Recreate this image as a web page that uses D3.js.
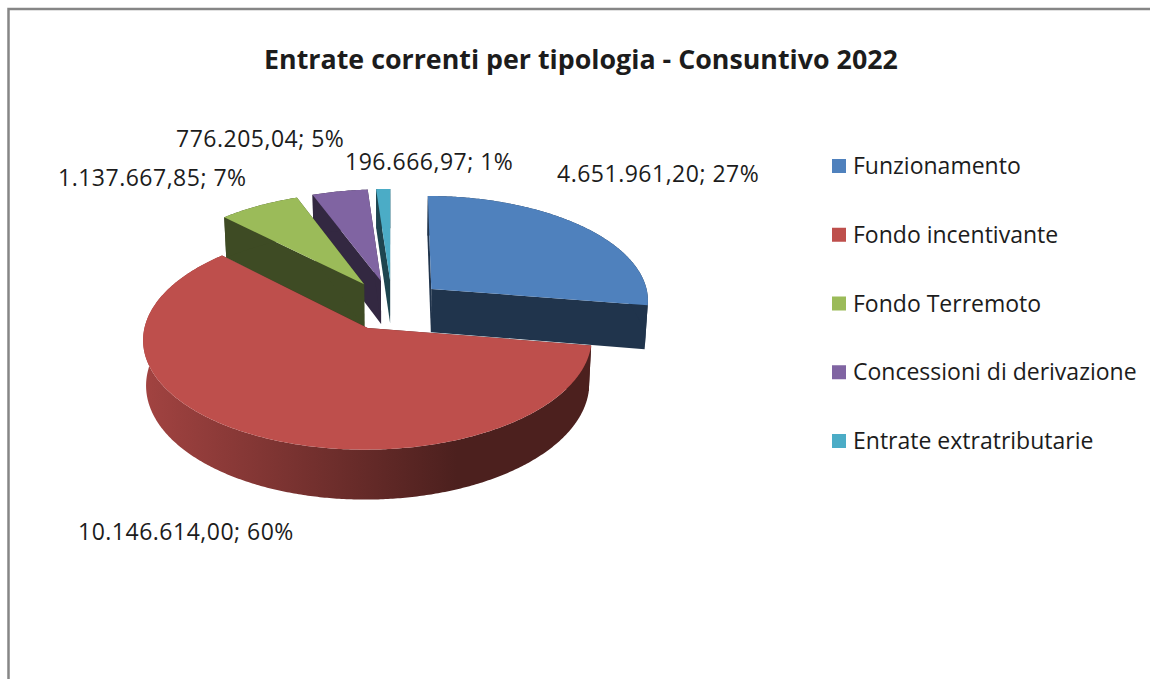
<!DOCTYPE html>
<html>
<head>
<meta charset="utf-8">
<title>Entrate correnti per tipologia - Consuntivo 2022</title>
<script src="https://cdn.jsdelivr.net/npm/d3@7"></script>
<style>
  body { margin: 0; background: #fff; }
  text { font-family: "Open Sans", sans-serif; fill: #1c1c1c; }
</style>
</head>
<body>
<div id="chart"></div>
<script>
// Chart data
const categories = ["Funzionamento", "Fondo incentivante", "Fondo Terremoto", "Concessioni di derivazione", "Entrate extratributarie"];
const amounts = [4651961.20, 10146614.00, 1137667.85, 776205.04, 196666.97];
const percents = [27, 60, 7, 5, 1];
const colors = ["#4f81bd", "#be4f4c", "#9bbb59", "#8064a2", "#4bacc6"];

// Where each data label starts (x, baseline), in category order
const labelPos = [[557, 182], [78, 540], [58, 186], [176, 147], [345, 170]];

const width = 1150;
const height = 679;

// Settings of the fake 3D view
const centerX = 392;
const centerY = 305;
const radiusX = 218.5; // horizontal size of one pie radius
const radiusY = 105;   // vertical size of one pie radius
const perspective = 0.098;
const explode = 0.24;  // how far each slice is pulled out
const depth = 44;      // thickness of the pie
const baseShrink = 0.988; // bottom face is a bit farther from the eye

const svg = d3.select("#chart")
  .append("svg")
  .attr("width", width)
  .attr("height", height);

// Frame of the chart area, its right and bottom sides are outside the picture
svg.append("rect")
  .attr("x", 8.5)
  .attr("y", 9)
  .attr("width", width + 20)
  .attr("height", height + 20)
  .attr("fill", "#fff")
  .attr("stroke", "#868686")
  .attr("stroke-width", 2.5);

svg.append("text")
  .attr("x", 581)
  .attr("y", 69)
  .attr("text-anchor", "middle")
  .attr("font-size", 26.8)
  .attr("font-weight", 700)
  .text("Entrate correnti per tipologia - Consuntivo 2022");

const colorScale = d3.scaleOrdinal().domain(categories).range(colors);
const wallColor = function(c) {
  const rgb = d3.rgb(c);
  return d3.rgb(rgb.r * 0.4, rgb.g * 0.4, rgb.b * 0.4).formatHex();
};

// pie flat coordinates -> screen, bottom=true gives the lower face
const project = function(x, y, bottom) {
  const w = 1 / (1 - perspective * y);
  const shrink = bottom ? baseShrink : 1;
  return [
    centerX + radiusX * x * w * shrink,
    centerY + radiusY * y * w + (bottom ? depth * w : 0)
  ];
};

const pie = d3.pie().sort(null).value(d => d.amount);
const slices = pie(categories.map((name, i) => ({name: name, amount: amounts[i]})));
const line = d3.line();

// Everything needed to draw one slice
const sliceShape = function(s) {
  const mid = (s.startAngle + s.endAngle) / 2;
  const ox = explode * Math.sin(mid);
  const oy = -explode * Math.cos(mid);
  const steps = d3.range(s.startAngle, s.endAngle, 0.01).concat([s.endAngle]);
  const rim = steps.map(a => [ox + Math.sin(a), oy - Math.cos(a)]);
  const apex = [ox, oy];
  const pt = (p, bottom) => project(p[0], p[1], bottom);
  return {
    top: [pt(apex, false)].concat(rim.map(p => pt(p, false))),
    wallStart: [pt(apex, false), pt(rim[0], false), pt(rim[0], true), pt(apex, true)],
    wallEnd: [pt(apex, false), pt(rim[rim.length - 1], false), pt(rim[rim.length - 1], true), pt(apex, true)],
    outer: rim.map(p => pt(p, false)).concat(rim.slice().reverse().map(p => pt(p, true)))
  };
};

// Shaded outer wall of the big slice
const gradient = svg.append("defs")
  .append("linearGradient")
  .attr("id", "wallShade");
const redBase = d3.rgb(colors[1]);
[[0, 0.85], [0.7, 0.4], [1, 0.4]].forEach(function(stop) {
  gradient.append("stop")
    .attr("offset", stop[0])
    .attr("stop-color", d3.rgb(redBase.r * stop[1], redBase.g * stop[1], redBase.b * stop[1]).formatHex());
});

// Painter order: back slices first, blue one comes in front of the red edge
const drawOrder = [4, 3, 2, 1, 0];
const pieGroup = svg.append("g");

drawOrder.forEach(function(i) {
  const shape = sliceShape(slices[i]);
  const base = colorScale(categories[i]);
  const dark = wallColor(base);
  const g = pieGroup.append("g").attr("class", "slice");

  g.append("path").attr("d", line(shape.wallStart) + "Z").attr("fill", dark);
  g.append("path").attr("d", line(shape.wallEnd) + "Z").attr("fill", dark);
  g.append("path")
    .attr("d", line(shape.outer) + "Z")
    .attr("fill", i === 1 ? "url(#wallShade)" : dark);
  g.append("path").attr("d", line(shape.top) + "Z").attr("fill", base);
});

// Data labels, numbers with the italian separators
const itFormat = d3.formatLocale({decimal: ",", thousands: ".", grouping: [3], currency: ["", ""]}).format(",.2f");

svg.selectAll(".label")
  .data(categories)
  .enter()
  .append("text")
    .attr("class", "label")
    .attr("x", (d, i) => labelPos[i][0])
    .attr("y", (d, i) => labelPos[i][1])
    .attr("font-size", 23)
    .attr("letter-spacing", 0.5)
    .text((d, i) => itFormat(amounts[i]) + "; " + percents[i] + "%");

// Legend
const legendY = d3.scalePoint()
  .domain(categories)
  .range([166, 441]);

svg.selectAll(".legend-box")
  .data(categories)
  .enter()
  .append("rect")
    .attr("class", "legend-box")
    .attr("x", 832)
    .attr("y", d => legendY(d) - 7)
    .attr("width", 14)
    .attr("height", 14)
    .attr("fill", d => colorScale(d));

svg.selectAll(".legend-text")
  .data(categories)
  .enter()
  .append("text")
    .attr("class", "legend-text")
    .attr("x", 853)
    .attr("y", d => legendY(d) + 8)
    .attr("font-size", 23)
    .text(d => d);
</script>
</body>
</html>
